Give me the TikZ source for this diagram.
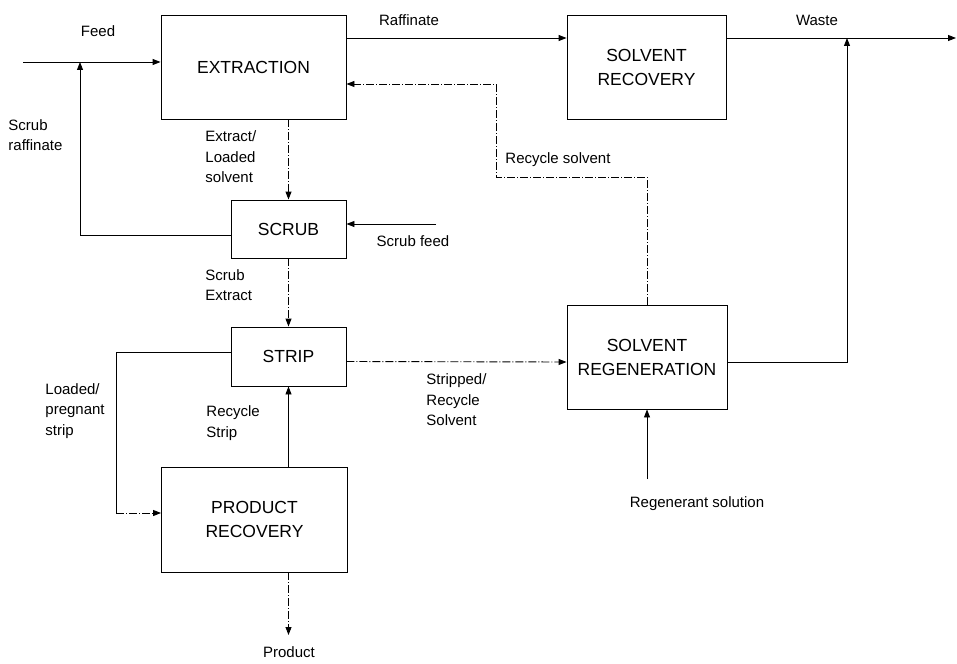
\documentclass[tikz,border=0pt]{standalone}
\usepackage{fontspec}
\setmainfont{Liberation Sans}
\usetikzlibrary{arrows.meta}

\begin{document}
\begin{tikzpicture}[x=1pt,y=-1pt,>={Triangle[length=8pt,width=6pt]},line width=0.9pt]
  \tikzstyle{unit}=[draw, align=center, font=\fontsize{17.5}{24}\selectfont]
  \tikzstyle{lbl}=[align=left, inner sep=0pt, font=\fontsize{15}{20.5}\selectfont]
  \tikzstyle{dashdot}=[dash pattern=on 8pt off 2pt on 1pt off 2pt]

  \useasboundingbox (0,0) rectangle (957,663);

  \node[unit, minimum width=185pt, minimum height=104pt] (ext) at (253.5,67) {EXTRACTION};
  \node[unit, minimum width=159pt, minimum height=104pt] (srec) at (646.5,67) {SOLVENT\\RECOVERY};
  \node[unit, minimum width=115pt, minimum height=58pt] (scrub) at (288.5,229) {SCRUB};
  \node[unit, minimum width=115pt, minimum height=59pt] (strip) at (288.5,356.5) {STRIP};
  \node[unit, minimum width=186pt, minimum height=105pt] (prec) at (254.5,519.5) {PRODUCT\\RECOVERY};
  \node[unit, minimum width=160pt, minimum height=104pt] (sreg) at (647,357) {SOLVENT\\REGENERATION};

  \coordinate (feedin) at (23,62);
  \coordinate (srj) at (80,62);
  \coordinate (raf) at (346,38);
  \coordinate (wj) at (847,38);
  \coordinate (wasteout) at (956,38);
  \coordinate (rcbend) at (496,177);
  \coordinate (rcy) at (496,84);
  \coordinate (sfin) at (436,224);
  \coordinate (lpc) at (116,513);
  \coordinate (prodout) at (288.5,635);
  \coordinate (regin) at (647,479);

  \draw[->] (feedin) -- (feedin -| ext.west);
  \draw[->] ([yshift=-6pt]scrub.west) -| (srj);
  \draw[->] (raf) -- (raf -| srec.west);
  \draw[->] (srec.east |- raf) -- (wasteout);
  \draw[->] ([yshift=-5pt]sreg.east) -| (wj);
  \draw[->, dashdot] (sreg.north) |- (rcbend) -- (rcy) -- (rcy -| ext.east);
  \draw[->, dashdot] (scrub.north |- ext.south) -- (scrub.north);
  \draw[->] (sfin) -- (sfin -| scrub.east);
  \draw[->, dashdot] (scrub.south) -- (strip.north);
  \draw ([yshift=4pt]strip.west) -| (lpc);
  \draw[->, dashdot] (lpc) -- (lpc -| prec.west);
  \draw[->] (strip.south |- prec.north) -- (strip.south);
  \draw[->, dashdot] (strip.south |- prec.south) -- (prodout);
  \draw[->, dashdot] ([yshift=-5pt]strip.east) -- ([yshift=-5pt]sreg.west);
  \draw[->] (regin) -- (sreg.south);

  \node[lbl] (feed) at (98,31) {Feed};
  \node[lbl, anchor=west] (scrubraf) at (8,135) {Scrub\\raffinate};
  \node[lbl, anchor=west] (extract) at (205,157) {Extract/\\Loaded\\solvent};
  \node[lbl] (raffinate) at (409,20) {Raffinate};
  \node[lbl] (waste) at (817,20) {Waste};
  \node[lbl, anchor=west] (recsolv) at (505,160) {Recycle solvent};
  \node[lbl] (scrubfeed) at (413,241) {Scrub feed};
  \node[lbl, anchor=west] (scrubext) at (205,285) {Scrub\\Extract};
  \node[lbl, anchor=west] (loaded) at (45,411) {Loaded/\\pregnant\\strip};
  \node[lbl, anchor=west] (recstrip) at (206,423) {Recycle\\Strip};
  \node[lbl, anchor=west] (stripped) at (426,400) {Stripped/\\Recycle\\Solvent};
  \node[lbl] (regen) at (697,504) {Regenerant solution};
  \node[lbl] (product) at (289,652) {Product};
\end{tikzpicture}
\end{document}
